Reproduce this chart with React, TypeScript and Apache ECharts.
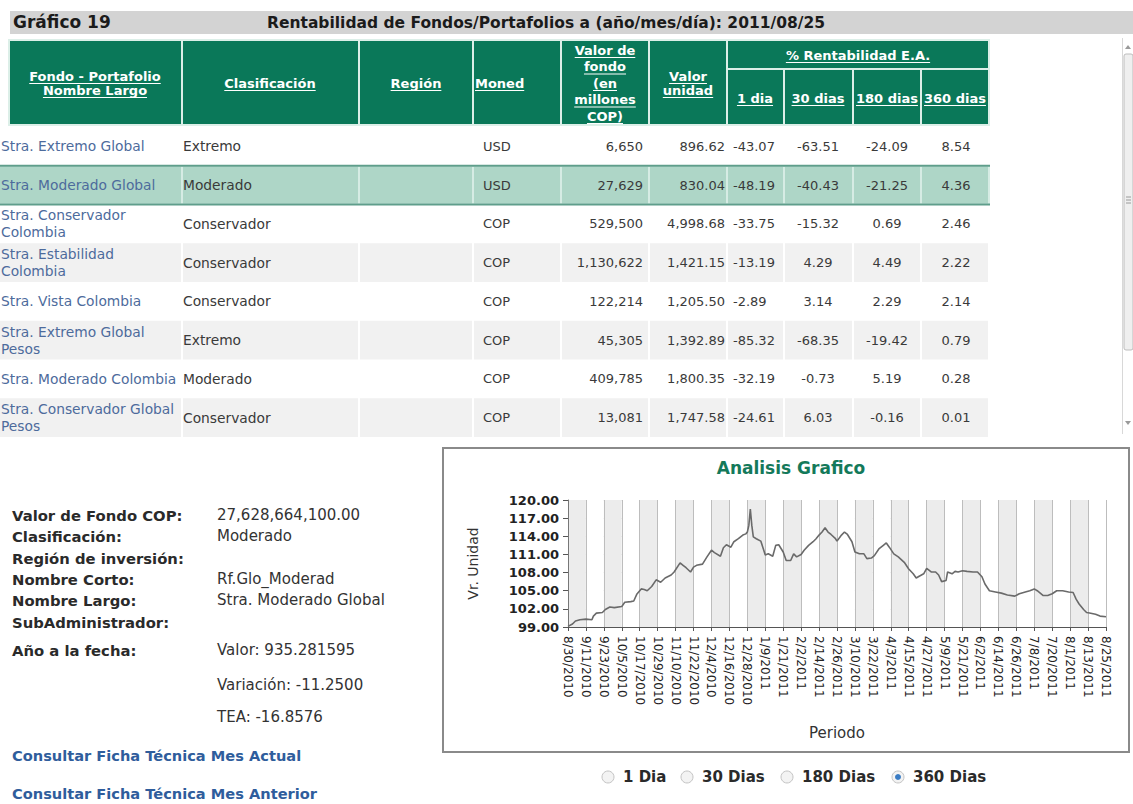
import React, { useEffect, useRef } from "react";
import * as echarts from "echarts";

// ---------- Table data ----------
const fundNames = [
  "Stra. Extremo Global",
  "Stra. Moderado Global",
  "Stra. Conservador\nColombia",
  "Stra. Estabilidad\nColombia",
  "Stra. Vista Colombia",
  "Stra. Extremo Global\nPesos",
  "Stra. Moderado Colombia",
  "Stra. Conservador Global\nPesos",
];
const classifications = ["Extremo", "Moderado", "Conservador", "Conservador", "Conservador", "Extremo", "Moderado", "Conservador"];
const currencies = ["USD", "USD", "COP", "COP", "COP", "COP", "COP", "COP"];
const fundValuesMillions = [6650, 27629, 529500, 1130622, 122214, 45305, 409785, 13081];
const unitPrices = [896.62, 830.04, 4998.68, 1421.15, 1205.5, 1392.89, 1800.35, 1747.58];
const return1d = [-43.07, -48.19, -33.75, -13.19, -2.89, -85.32, -32.19, -24.61];
const return30d = [-63.51, -40.43, -15.32, 4.29, 3.14, -68.35, -0.73, 6.03];
const return180d = [-24.09, -21.25, 0.69, 4.49, 2.29, -19.42, 5.19, -0.16];
const return360d = [8.54, 4.36, 2.46, 2.22, 2.14, 0.79, 0.28, 0.01];

// ---------- Detail panel ----------
const detailLabels = ["Valor de Fondo COP:", "Clasificación:", "Región de inversión:", "Nombre Corto:", "Nombre Largo:", "SubAdministrador:", "Año a la fecha:"];
const detailValues = ["27,628,664,100.00", "Moderado", "", "Rf.Glo_Moderad", "Stra. Moderado Global", "", "Valor: 935.281595"];
const ytdExtra = ["Variación: -11.2500", "TEA: -16.8576"];
const linkTexts = ["Consultar Ficha Técnica Mes Actual", "Consultar Ficha Técnica Mes Anterior"];
const periodOptions = ["1 Dia", "30 Dias", "180 Dias", "360 Dias"];

// ---------- Chart data ----------
const dateTickLabels = [
  "8/30/2010", "9/11/2010", "9/23/2010", "10/5/2010", "10/17/2010", "10/29/2010", "11/10/2010", "11/22/2010",
  "12/4/2010", "12/16/2010", "12/28/2010", "1/9/2011", "1/21/2011", "2/2/2011", "2/14/2011", "2/26/2011",
  "3/10/2011", "3/22/2011", "4/3/2011", "4/15/2011", "4/27/2011", "5/9/2011", "5/21/2011", "6/2/2011",
  "6/14/2011", "6/26/2011", "7/8/2011", "7/20/2011", "8/1/2011", "8/13/2011", "8/25/2011",
];
const dayOffsets = [
  0, 3, 5, 8, 12, 16, 17, 19, 23, 25, 28, 31, 36, 38, 42, 44, 46, 49, 51, 53, 56, 59, 62, 65, 69, 71, 75, 77, 79, 82,
  84, 86, 90, 93, 96, 98, 102, 104, 106, 109, 111, 114, 117, 119, 120, 121, 122, 123, 124, 126, 129, 131, 132, 134,
  137, 139, 141, 144, 146, 149, 151, 153, 156, 158, 161, 164, 166, 168, 170, 172, 174, 176, 179, 180, 183, 185, 187,
  190, 192, 195, 198, 200, 203, 205, 208, 211, 213, 215, 218, 221, 225, 228, 231, 233, 235, 238, 240, 243, 246, 248,
  250, 253, 254, 257, 259, 261, 264, 267, 271, 274, 277, 279, 282, 286, 290, 294, 299, 302, 306, 309, 312, 314, 318,
  321, 324, 327, 331, 335, 338, 340, 342, 345, 347, 349, 353, 356, 360,
];
const unitValues = [
  99.1, 99.5, 100.0, 100.2, 100.3, 100.2, 100.8, 101.3, 101.4, 101.9, 102.3, 102.2, 102.4, 103.1, 103.2, 103.3, 104.4,
  105.3, 105.2, 105.0, 105.7, 106.8, 106.4, 107.1, 107.6, 108.1, 109.6, 109.2, 108.8, 108.1, 108.9, 109.2, 109.4,
  110.6, 111.7, 111.3, 110.7, 112.1, 112.6, 112.2, 113.1, 113.6, 114.2, 114.4, 114.7, 115.8, 118.5, 115.8, 113.9,
  113.6, 113.2, 111.7, 110.9, 111.1, 110.7, 112.5, 112.6, 111.4, 110.0, 110.0, 111.1, 110.6, 111.0, 111.7, 112.5,
  113.1, 113.6, 114.2, 114.7, 115.4, 114.7, 114.3, 113.6, 113.2, 114.2, 114.7, 114.3, 113.1, 111.4, 111.1, 111.1,
  110.3, 110.4, 110.8, 111.9, 112.5, 112.9, 112.2, 111.1, 110.6, 109.7, 108.6, 107.8, 107.1, 107.4, 107.8, 108.7,
  108.1, 108.1, 107.6, 106.5, 106.7, 108.1, 107.8, 108.2, 108.1, 108.3, 108.2, 108.1, 108.1, 107.3, 106.1, 105.0,
  104.8, 104.6, 104.3, 104.1, 104.5, 104.8, 105.0, 105.3, 105.0, 104.2, 104.2, 104.5, 105.0, 105.0, 104.8, 104.7,
  103.6, 102.8, 101.9, 101.4, 101.3, 101.1, 100.8, 100.7,
];

const FF = '"DejaVu Sans", Verdana, sans-serif';
const GREEN = "#0a7859";

const measureCtx = typeof document !== "undefined" ? document.createElement("canvas").getContext("2d") : null;
function textWidth(text: string, size: number, weight: string) {
  if (!measureCtx) return text.length * size * 0.6;
  measureCtx.font = `${weight} ${size}px "DejaVu Sans"`;
  return measureCtx.measureText(text).width;
}

function txt(text: string, x: number, y: number, o: any = {}) {
  return {
    type: "text",
    x,
    y,
    z: 10,
    silent: true,
    style: {
      text,
      fill: o.fill || "#333",
      fontSize: o.size || 13,
      fontFamily: FF,
      fontWeight: o.weight || "normal",
      align: o.align || "left",
      verticalAlign: "middle",
      lineHeight: o.lineHeight || 17,
    },
  };
}

function rect(x: number, y: number, w: number, h: number, fill: string, z = 1, extra: any = {}) {
  return { type: "rect", z, silent: true, shape: { x, y, width: w, height: h, r: extra.r || 0 }, style: { fill, stroke: extra.stroke, lineWidth: extra.lineWidth } };
}

function line(x1: number, y1: number, x2: number, y2: number, stroke: string, w = 1, z = 11) {
  return { type: "line", z, silent: true, shape: { x1, y1, x2, y2 }, style: { stroke, lineWidth: w } };
}

function headerText(lines: string[], cx: number, cy: number, spacing: number, align = "center") {
  const out: any[] = [];
  const n = lines.length;
  lines.forEach((ln, i) => {
    const y = cy + (i - (n - 1) / 2) * spacing;
    out.push(txt(ln, cx, y, { fill: "#ffffff", weight: "bold", size: 13, align }));
    const w = textWidth(ln, 13, "bold");
    const x0 = align === "center" ? cx - w / 2 : cx;
    out.push(line(x0, y + 7.5, x0 + w, y + 7.5, "#ffffff", 1));
  });
  return out;
}

function fmtInt(v: number) {
  return v.toLocaleString("en-US");
}
function fmt2(v: number) {
  return v.toLocaleString("en-US", { minimumFractionDigits: 2, maximumFractionDigits: 2 });
}

function buildGraphics() {
  const g: any[] = [];
  // Title bar
  g.push(rect(10, 11, 1123, 23, "#d3d3d3", 1));
  g.push(txt("Gráfico 19", 13, 22, { size: 17, weight: "bold", fill: "#1b1b1b" }));
  g.push(txt("Rentabilidad de Fondos/Portafolios a (año/mes/día): 2011/08/25", 267, 23, { size: 15.5, weight: "bold", fill: "#1b1b1b" }));

  // Header
  const cols = [
    [10, 181], [183, 358], [360, 472], [474, 560], [562, 648], [650, 726],
  ];
  const subCols = [[728, 783], [785, 852], [854, 920], [922, 988]];
  g.push(rect(8, 39, 982, 87, "#dcefe8", 1));
  cols.forEach(([a, b]) => g.push(rect(a, 41, b - a, 83, GREEN, 2)));
  g.push(rect(728, 41, 260, 27, GREEN, 2));
  subCols.forEach(([a, b]) => g.push(rect(a, 70, b - a, 54, GREEN, 2)));
  g.push(...headerText(["Fondo - Portafolio", "Nombre Largo"], 95, 83, 14));
  g.push(...headerText(["Clasificación"], 270, 83, 15));
  g.push(...headerText(["Región"], 416, 83, 15));
  g.push(...headerText(["Moned"], 475, 83, 15, "left"));
  g.push(...headerText(["Valor de", "fondo", "(en", "millones", "COP)"], 605, 83, 16.5));
  g.push(...headerText(["Valor", "unidad"], 688, 83, 14));
  g.push(...headerText(["% Rentabilidad E.A."], 858, 55, 15));
  g.push(...headerText(["1 dia"], 755, 98, 15));
  g.push(...headerText(["30 dias"], 818, 98, 15));
  g.push(...headerText(["180 dias"], 887, 98, 15));
  g.push(...headerText(["360 dias"], 955, 98, 15));

  // Body rows
  const bodyCols = [[0, 181], [183, 358], [360, 472], [474, 560], [562, 648], [650, 726], [728, 783], [785, 852], [854, 920], [922, 988]];
  const rowH = 38.75;
  fundNames.forEach((name, i) => {
    const top = 127 + i * rowH;
    const cy = top + rowH / 2;
    if (i === 1) {
      g.push(rect(0, top, 990, rowH, "#d6ece4", 1));
      bodyCols.forEach(([a, b]) => g.push(rect(a, top + 1, b - a, rowH - 2, "#aed6c7", 2)));
      g.push(line(0, top, 990, top, "#5f9e8b", 2, 3));
      g.push(line(0, top + rowH, 990, top + rowH, "#5f9e8b", 2, 3));
    } else if (i % 2 === 1) {
      bodyCols.forEach(([a, b]) => g.push(rect(a, top, b - a, rowH, "#f1f1f1", 2)));
    }
    g.push(txt(name, 1, cy, { fill: "#4d6b9c", size: 13.8 }));
    g.push(txt(classifications[i], 183, cy, { fill: "#3a3a3a", size: 13.8 }));
    g.push(txt(currencies[i], 483, cy, { fill: "#3a3a3a" }));
    g.push(txt(fmtInt(fundValuesMillions[i]), 643, cy, { fill: "#3a3a3a", align: "right" }));
    g.push(txt(fmt2(unitPrices[i]), 725, cy, { fill: "#3a3a3a", align: "right" }));
    g.push(txt(return1d[i].toFixed(2), 733, cy, { fill: "#3a3a3a" }));
    g.push(txt(return30d[i].toFixed(2), 818, cy, { fill: "#3a3a3a", align: "center" }));
    g.push(txt(return180d[i].toFixed(2), 887, cy, { fill: "#3a3a3a", align: "center" }));
    g.push(txt(return360d[i].toFixed(2), 956, cy, { fill: "#3a3a3a", align: "center" }));
  });

  // Scrollbar
  g.push(line(1122.5, 38, 1122.5, 434, "#d8d8d8", 1, 2));
  g.push({ type: "polygon", z: 3, silent: true, shape: { points: [[1125, 49], [1131, 49], [1128, 45]] }, style: { fill: "#9a9a9a" } });
  g.push(rect(1124, 54, 9, 296, "#efefef", 2, { stroke: "#bdbdbd", lineWidth: 1, r: 2 }));
  g.push(line(1126, 197, 1131, 197, "#9a9a9a", 1, 3));
  g.push(line(1126, 200, 1131, 200, "#9a9a9a", 1, 3));
  g.push(line(1126, 203, 1131, 203, "#9a9a9a", 1, 3));
  g.push({ type: "polygon", z: 3, silent: true, shape: { points: [[1125, 421], [1131, 421], [1128, 425]] }, style: { fill: "#9a9a9a" } });

  // Detail panel
  const labelYs = [515, 536, 558, 579, 600, 622, 650];
  detailLabels.forEach((lab, i) => {
    g.push(txt(lab, 12, labelYs[i], { size: 14.8, weight: "bold", fill: "#2a2a2a" }));
    if (detailValues[i]) g.push(txt(detailValues[i], 217, labelYs[i], { size: 15, fill: "#333" }));
  });
  g.push(txt(ytdExtra[0], 217, 685, { size: 15, fill: "#333" }));
  g.push(txt(ytdExtra[1], 217, 717, { size: 15, fill: "#333" }));
  g.push(txt(linkTexts[0], 12, 755, { size: 14.6, weight: "bold", fill: "#2f5d9c" }));
  g.push(txt(linkTexts[1], 12, 793, { size: 14.6, weight: "bold", fill: "#2f5d9c" }));

  // Chart frame + title
  g.push({ type: "rect", z: 1, silent: true, shape: { x: 443, y: 448, width: 686, height: 304 }, style: { fill: "none", stroke: "#8a8a8a", lineWidth: 2 } });
  g.push(txt("Analisis Grafico", 791, 468, { size: 17, weight: "bold", fill: "#14795a", align: "center" }));

  // Radio buttons
  const radioX = [608, 687, 787, 898];
  periodOptions.forEach((p, i) => {
    g.push({ type: "circle", z: 5, silent: true, shape: { cx: radioX[i], cy: 777, r: 6 }, style: { fill: "#f3f3f3", stroke: "#c4c4c4", lineWidth: 1 } });
    if (i === 3) g.push({ type: "circle", z: 6, silent: true, shape: { cx: radioX[i], cy: 777, r: 3 }, style: { fill: "#3a7cc4" } });
    g.push(txt(p, radioX[i] + 15, 777, { size: 15, weight: "bold", fill: "#2a2a2a" }));
  });
  return g;
}

function buildOption(): any {
  return {
    animation: false,
    backgroundColor: "#ffffff",
    grid: { left: 568, top: 500, width: 538, height: 127, containLabel: false, outerBoundsMode: "none" },
    xAxis: {
      type: "value",
      min: 0,
      max: 360,
      interval: 12,
      name: "Periodo",
      nameLocation: "middle",
      nameGap: 98,
      nameTextStyle: { fontSize: 15, color: "#333", fontFamily: FF },
      axisLine: { show: true, onZero: false, lineStyle: { color: "#555", width: 1 } },
      axisTick: { show: true, length: 4, lineStyle: { color: "#555" } },
      axisLabel: {
        rotate: -90,
        margin: 9,
        fontSize: 12,
        color: "#222",
        fontFamily: FF,
        hideOverlap: false,
        showMinLabel: true,
        showMaxLabel: true,
        formatter: (v: number) => dateTickLabels[Math.round(v / 12)] ?? "",
      },
      splitLine: { show: true, lineStyle: { color: "#bdbdbd", width: 1 } },
      splitArea: { show: true, areaStyle: { color: ["#ececec", "#ffffff"] } },
    },
    yAxis: {
      type: "value",
      min: 99,
      max: 120,
      interval: 3,
      name: "Vr. Unidad",
      nameLocation: "middle",
      nameGap: 88,
      nameRotate: 90,
      nameTextStyle: { fontSize: 14, color: "#333", fontFamily: FF },
      axisLine: { show: true, lineStyle: { color: "#777" } },
      axisTick: { show: true, length: 5, lineStyle: { color: "#555" } },
      axisLabel: { fontSize: 13, fontWeight: "bold", color: "#222", fontFamily: FF, margin: 9, formatter: (v: number) => v.toFixed(2) },
      splitLine: { show: true, lineStyle: { color: "#bdbdbd", width: 1 } },
    },
    series: [
      {
        type: "line",
        name: "Vr. Unidad",
        data: dayOffsets.map((d, i) => [d, unitValues[i]]),
        showSymbol: false,
        symbol: "none",
        lineStyle: { color: "#6a6a6a", width: 1.6 },
        itemStyle: { color: "#6a6a6a" },
        z: 5,
      },
    ],
    graphic: { elements: buildGraphics() },
  };
}

export default function App() {
  const ref = useRef<HTMLDivElement>(null);
  useEffect(() => {
    if (!ref.current) return;
    const chart = echarts.init(ref.current, null, { renderer: "svg" });
    chart.setOption(buildOption());
    return () => chart.dispose();
  }, []);
  return (
    <div
      ref={ref}
      style={{ position: "fixed", left: 0, top: 0, width: 1133, height: 804, background: "#ffffff" }}
    />
  );
}
